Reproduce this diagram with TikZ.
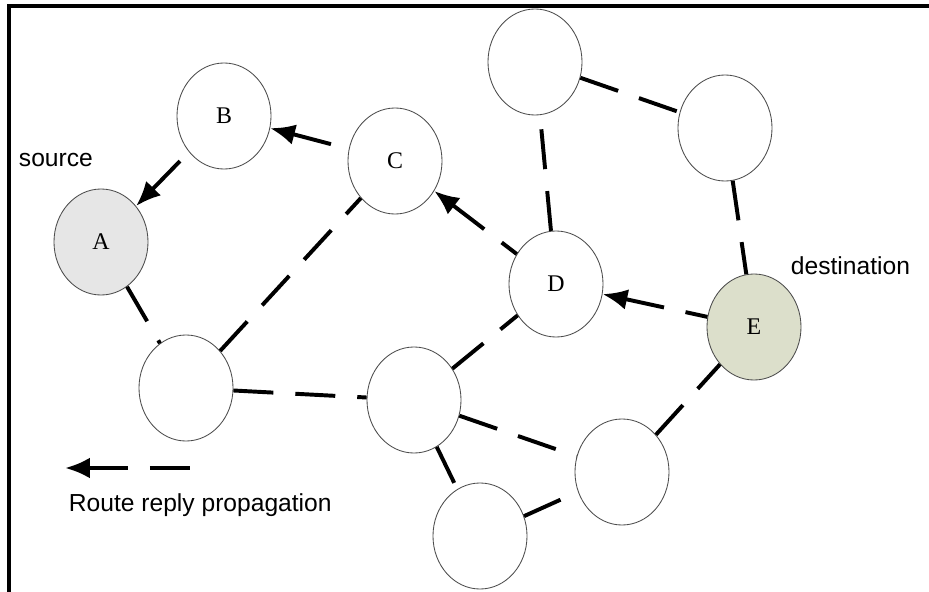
\documentclass[tikz,border=0pt]{standalone}
\usepackage{fontspec}
\setmainfont{Liberation Sans}
\newfontfamily\nodefont{Liberation Serif}
\usetikzlibrary{shapes.geometric}
\usetikzlibrary{arrows.meta}
\tikzstyle{host} = [ellipse, draw=black!70, line width=0.6pt, minimum width=2.35cm, minimum height=2.65cm, inner sep=0pt, font=\nodefont\fontsize{17}{20}\selectfont]
\tikzstyle{link} = [line width=2.8pt, dash pattern=on 1cm off 0.55cm]
\tikzstyle{reply} = [link, {Latex[length=6.2mm,width=5.2mm]}-]
\definecolor{srcgray}{HTML}{E6E6E6}
\definecolor{dstgreen}{HTML}{DCDFCB}

\begin{document}
\begin{tikzpicture}[x=0.025cm,y=-0.025cm,font=\fontsize{17.5}{20}\selectfont]
			\useasboundingbox (0,0) rectangle (929,592);
			\draw[line width=2.2pt] (9,592) -- (9,6) -- (929,6);
			% hosts
			\node[host,fill=srcgray] (A) at (101,242) {A};
			\node[host] (B) at (224,116) {B};
			\node[host] (C) at (395,161) {C};
			\node[host] (D) at (556,284) {D};
			\node[host,fill=dstgreen] (E) at (754,327) {E};
			\node[host] (top) at (535,62) {};
			\node[host] (topright) at (725,128) {};
			\node[host] (F) at (186,388) {};
			\node[host] (G) at (414,400) {};
			\node[host] (H) at (622,472) {};
			\node[host] (I) at (480,536) {};
			% labels
			\node[anchor=west] (srclabel) at (14,160) {source};
			\node[anchor=west] (dstlabel) at (786,266) {destination};
			% links
			\draw[link] (A) -- (F);
			\draw[link] (F) -- (C);
			\draw[link] (F) -- (G);
			\draw[link] (G) -- (D);
			\draw[link] (G) -- (H);
			\draw[link] (G) -- (I);
			\draw[link] (I) -- (H);
			\draw[link] (H) -- (E);
			\draw[link] (D) -- (top);
			\draw[link] (top) -- (topright);
			\draw[link] (topright) -- (E);
			% route reply (drawn from the tip end)
			\draw[reply] (D) -- (E);
			\draw[reply] (C) -- (D);
			\draw[reply] (B) -- (C);
			\draw[reply] (A) -- (B);
			% legend
			\coordinate (legtip) at (65,468);
			\coordinate (legtail) at (198,468);
			\draw[reply] (legtip) -- (legtail);
			\node[anchor=north west] (legtext) at (64,489) {Route reply propagation};
		\end{tikzpicture}
\end{document}
